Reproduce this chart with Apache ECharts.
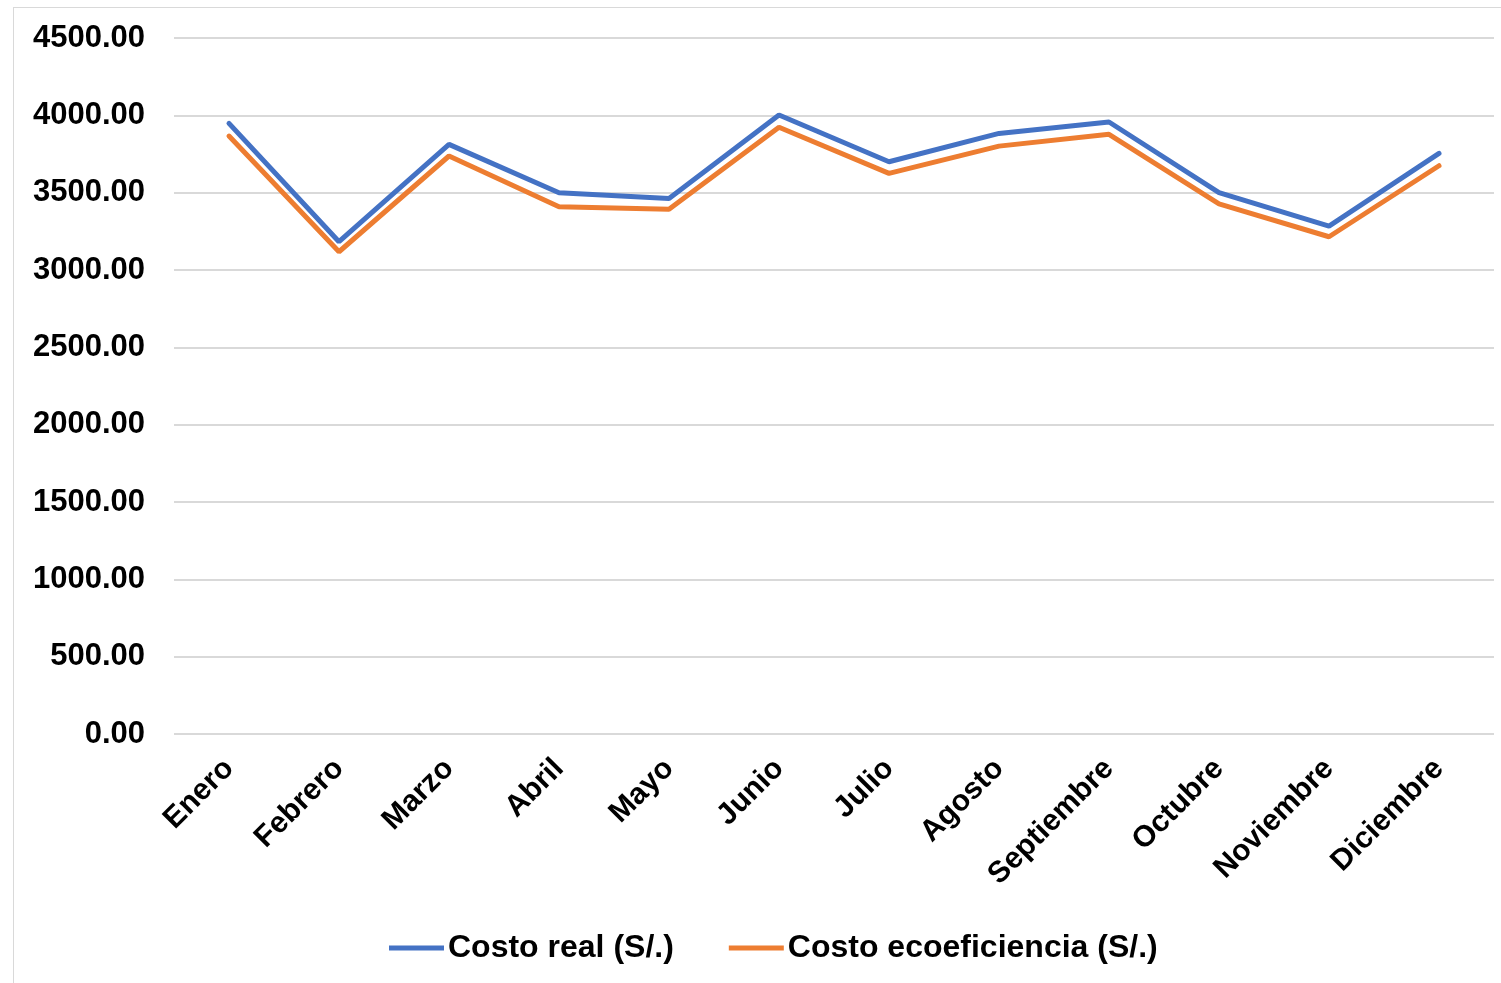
<!DOCTYPE html>
<html>
<head>
<meta charset="utf-8">
<script src="https://cdn.jsdelivr.net/npm/echarts@6/dist/echarts.min.js"></script>
<style>
  html, body { margin: 0; padding: 0; background: #fff; }
  #frame {
    position: absolute; left: 13px; top: 7px; width: 1490px; height: 990px;
    border: 1px solid #d9d9d9; box-sizing: border-box;
  }
  #chart { position: absolute; left: 0; top: 0; width: 1501px; height: 983px; }
</style>
</head>
<body>
<div id="frame"></div>
<div id="chart"></div>
<script>
const months = ['Enero', 'Febrero', 'Marzo', 'Abril', 'Mayo', 'Junio', 'Julio', 'Agosto', 'Septiembre', 'Octubre', 'Noviembre', 'Diciembre'];
const costoReal = [3948, 3183, 3812, 3500, 3463, 4002, 3700, 3883, 3957, 3500, 3284, 3754];
const costoEco = [3866, 3118, 3737, 3409, 3392, 3923, 3625, 3801, 3877, 3427, 3215, 3674];
const seriesNames = ['Costo real (S/.)', 'Costo ecoeficiencia (S/.)'];

const myChart = echarts.init(document.getElementById('chart'));
const font = 'Liberation Sans, Arial, sans-serif';

let option = {
  animation: false,
  grid: { left: 174, right: 7, top: 38, bottom: 249 },
  legend: {
    top: 927,
    left: 384,
    itemWidth: 55,
    itemHeight: 5,
    itemGap: 55,
    icon: 'rect',
    textStyle: { fontFamily: font, fontWeight: 'bold', fontSize: 32, color: '#000', padding: [0, 0, 0, -1] },
    data: seriesNames
  },
  xAxis: {
    type: 'category',
    data: months,
    boundaryGap: true,
    axisLine: { show: false },
    axisTick: { show: false },
    axisLabel: {
      rotate: 45,
      margin: 30,
      interval: 0,
      fontFamily: font,
      fontWeight: 'bold',
      fontSize: 30,
      color: '#000'
    }
  },
  yAxis: {
    type: 'value',
    min: 0,
    max: 4500,
    interval: 500,
    axisLine: { show: false },
    axisTick: { show: false },
    splitLine: { lineStyle: { color: '#d9d9d9', width: 2 } },
    axisLabel: {
      margin: 29,
      fontFamily: font,
      fontWeight: 'bold',
      fontSize: 31,
      color: '#000',
      formatter: v => v.toFixed(2)
    }
  },
  series: [
    {
      name: seriesNames[0],
      type: 'line',
      data: costoReal,
      symbol: 'none',
      lineStyle: { color: '#4472C4', width: 5, cap: 'round' },
      itemStyle: { color: '#4472C4' }
    },
    {
      name: seriesNames[1],
      type: 'line',
      data: costoEco,
      symbol: 'none',
      lineStyle: { color: '#ED7D31', width: 5, cap: 'round' },
      itemStyle: { color: '#ED7D31' }
    }
  ]
};

option && myChart.setOption(option);
</script>
</body>
</html>
